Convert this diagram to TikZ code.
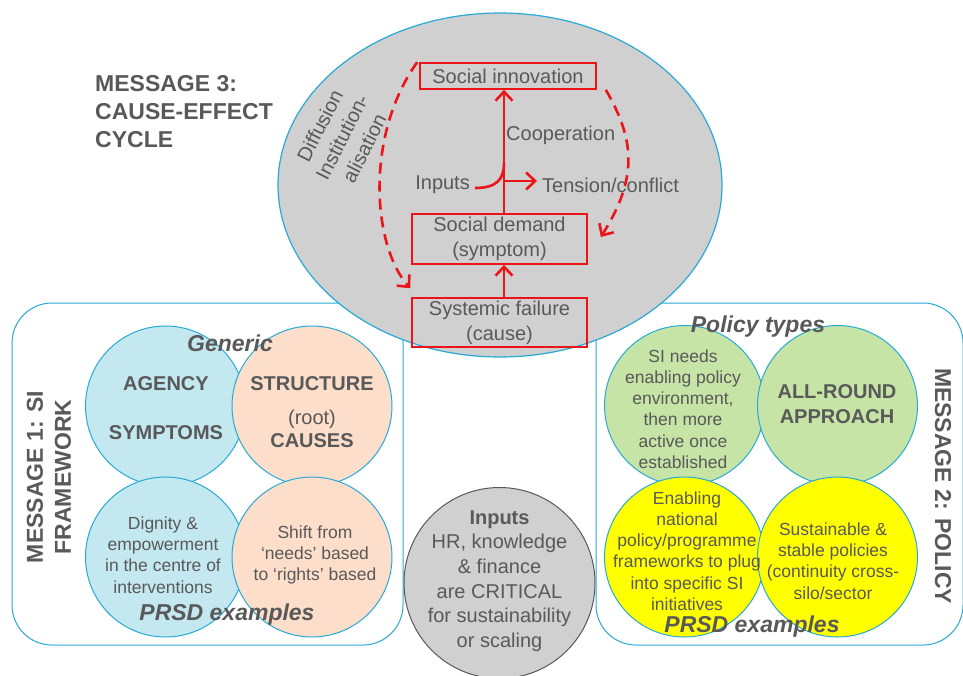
\documentclass[tikz,border=0pt]{standalone}
\usepackage{fontspec}
\setmainfont{Liberation Sans}
\usetikzlibrary{arrows.meta}
\definecolor{sired}{RGB}{235,20,25}
\definecolor{siblue}{RGB}{40,170,215}
\definecolor{sigray}{RGB}{208,208,208}
\definecolor{txtgray}{RGB}{89,89,89}
\definecolor{agencyfill}{RGB}{196,232,240}
\definecolor{peachfill}{RGB}{252,222,202}
\definecolor{policyfill}{RGB}{197,228,165}
\definecolor{enablefill}{RGB}{255,255,0}
\newcommand{\CycTip}{Straight Barb[length=9pt,width=17pt]}
\newcommand{\bigsz}{\fontsize{23}{28}\selectfont}
\newcommand{\midsz}{\fontsize{20}{25}\selectfont}
\newcommand{\lowsz}{\fontsize{17.5}{21.2}\selectfont}
\tikzset{cycbox/.style={draw=sired,line width=1.6pt,minimum width=175pt,inner sep=2pt,font=\midsz,align=center},
cyc/.style={draw=sired,line width=2.6pt,-{\CycTip}},
cycline/.style={draw=sired,line width=2.6pt},
cycdash/.style={cyc,dash pattern=on 11pt off 7pt},
bubble/.style={circle,draw=siblue,line width=1pt,minimum size=160pt,inner sep=0pt},
msgframe/.style={draw=siblue,line width=1pt,rounded corners=40pt},
msgtxt/.style={font=\bigsz\bfseries,align=center},
tagtxt/.style={font=\bigsz\bfseries\itshape},
intxt/.style={font=\lowsz,align=center}}

\begin{document}
\begin{tikzpicture}[x=1pt,y=-1pt,every node/.style={text=txtgray,inner sep=1pt}]
\useasboundingbox (0,0) rectangle (963,675);
\fill[white] (0,0) rectangle (963,675);
% message frames
\draw[msgframe] (12,303) rectangle (403,645);
\draw[msgframe] (596,303) rectangle (963,645);

% message 3: the cycle
\draw[siblue,fill=sigray,line width=1.2pt] (500,185) ellipse [x radius=222pt,y radius=172pt];
\node[msgtxt,anchor=west,align=left] (msg3) at (94,112) {MESSAGE 3:\\CAUSE-EFFECT\\CYCLE};
\node[cycbox,minimum width=176pt,minimum height=26pt] (innov) at (508,76) {Social innovation};
\node[cycbox,minimum height=50pt] (demand) at (499.5,239) {Social demand\\(symptom)};
\node[cycbox,minimum height=49pt] (failure) at (499.5,322.5) {Systemic failure\\(cause)};
\node[font=\midsz,anchor=west] (coop) at (505,135) {Cooperation};
\node[font=\midsz,anchor=east] (inputs) at (471,185) {Inputs};
\node[font=\midsz,anchor=west] (tension) at (541,185) {Tension/conflict};
\node[font=\midsz,rotate=63,align=center] (diffusion) at (342,137) {Diffusion\\Institution-\\alisation};
\coordinate (axis) at (504,0);\coordinate (merge) at (504,163);
\coordinate (fork) at (504,181);\coordinate (forkend) at (537,181);
\draw[cyc] (axis |- demand.north) -- (axis |- innov.south);
\draw[cyc] (axis |- failure.north) -- (axis |- demand.south);
\draw[cycline] ([xshift=4pt,yshift=-3pt]inputs.east) .. controls (496,188) and (504,180) .. (merge);
\draw[cyc] (fork) -- (forkend);
\draw[cycdash] ([xshift=-2pt]innov.north west) .. controls (365,135) and (372,245) .. ([shift={(-1pt,9pt)}]failure.north west);
\draw[cycdash] ([xshift=9pt]innov.south east) .. controls (635,140) and (638,178) .. ([xshift=13pt,yshift=2pt]demand.east);

% message 1: SI framework
\node[bubble,fill=agencyfill] (agency) at (165.5,406) {};
\node[bubble,fill=peachfill] (structure) at (312,406) {};
\node[bubble,fill=agencyfill] (dignity) at (165.5,557) {};
\node[bubble,fill=peachfill] (shift) at (312,557) {};
\node[font=\midsz\bfseries,align=center] (agency-t) at (166,408) {AGENCY\\[24pt]SYMPTOMS};
\node[font=\midsz,align=center] (structure-t) at (312,412) {\textbf{STRUCTURE}\\[9pt](root)\\[-2pt]\textbf{CAUSES}};
\node[intxt] (dignity-t) at (163,555) {Dignity \&\\empowerment\\in the centre of\\interventions};
\node[intxt] (shift-t) at (315,555) {Shift from\\‘needs’ based\\to ‘rights’ based};
\node[tagtxt] (generic) at (230,343) {Generic};
\node[tagtxt] (examples1) at (227,615) {PRSD examples};
\node[msgtxt,rotate=90] (msg1) at (49,477) {MESSAGE 1: SI\\FRAMEWORK};

% message 2: policy
\node[bubble,fill=policyfill] (needs) at (684.5,405.5) {};
\node[bubble,fill=policyfill] (allround) at (837.5,405.5) {};
\node[bubble,fill=enablefill] (enabling) at (684.5,557) {};
\node[bubble,fill=enablefill] (sustain) at (837.5,557) {};
\node[intxt] (needs-t) at (683,409) {SI needs\\enabling policy\\environment,\\then more\\active once\\established};
\node[font=\midsz\bfseries,align=center] (allround-t) at (837,404) {ALL-ROUND\\APPROACH};
\node[intxt] (enabling-t) at (687,551) {Enabling\\national\\policy/programme\\frameworks to plug\\into specific SI\\initiatives};
\node[intxt] (sustain-t) at (833,561) {Sustainable \&\\stable policies\\(continuity cross-\\silo/sector};
\node[tagtxt] (policytypes) at (758,327) {Policy types};
\node[tagtxt] (examples2) at (752,627) {PRSD examples};
\node[msgtxt,rotate=-90] (msg2) at (943,486) {MESSAGE 2: POLICY};

% inputs
\node[bubble,draw=txtgray,fill=sigray,minimum size=191pt] (resources) at (499.5,583) {};
\node[font=\fontsize{20}{24.6}\selectfont,align=center] (resources-t) at (499.5,581) {\textbf{Inputs}\\HR, knowledge\\\& finance\\are CRITICAL\\for sustainability\\or scaling};
\end{tikzpicture}
\end{document}
